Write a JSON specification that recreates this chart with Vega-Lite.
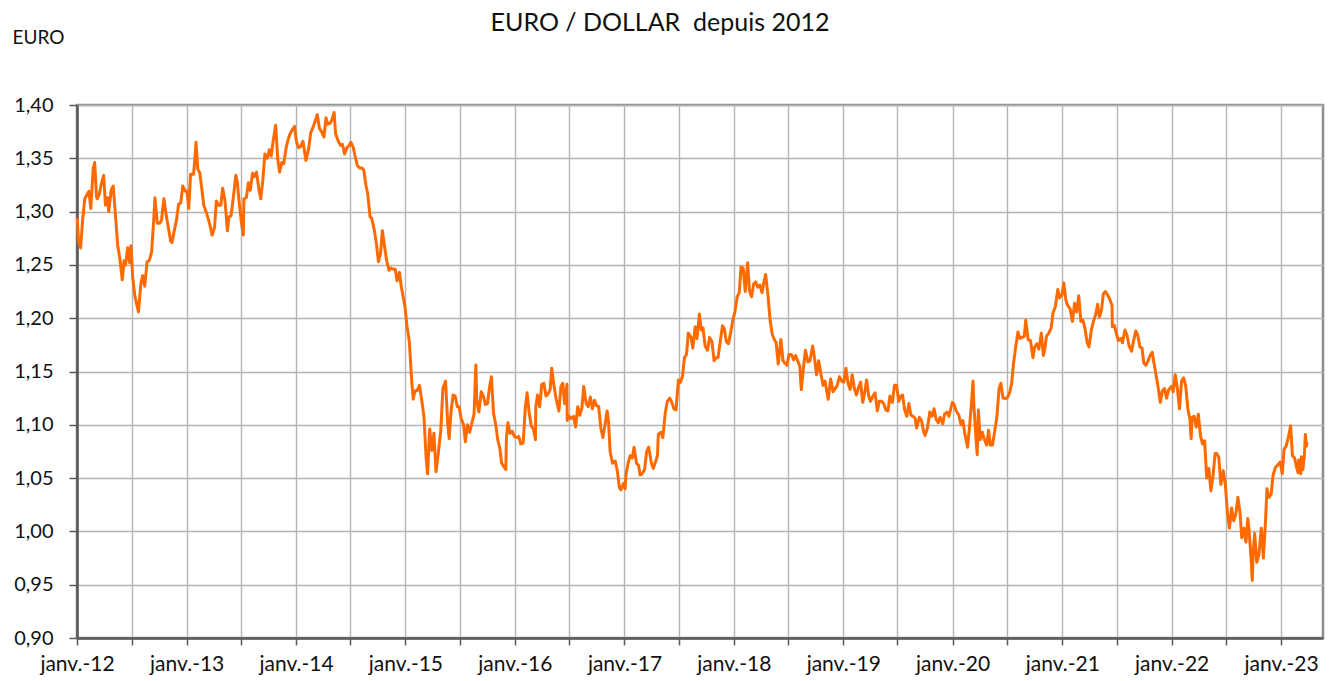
{
"$schema": "https://vega.github.io/schema/vega-lite/v6.json",
"autosize": "none",
"padding": {"left": 77, "top": 105, "right": 13, "bottom": 43},
"width": 1246,
"height": 533,
"background": "white",
"title": {"text": "EURO / DOLLAR\u00a0 depuis 2012", "font": "Lato", "fontSize": 25, "fontWeight": "normal", "color": "#111111", "anchor": "middle", "frame": "group", "offset": 0, "dy": 8, "dx": -40},
"config": {
  "view": {"stroke": "#8c8c8c", "strokeWidth": 2.5},
  "axis": {"labelFont": "Lato", "labelColor": "#111111", "titleFont": "Lato", "titleColor": "#111111", "gridColor": "#b4b4b4", "gridWidth": 1.4, "domainColor": "#595959", "domainWidth": 2.5, "tickColor": "#595959", "tickWidth": 1.5}
},
"data": {"values": [
{"d":"2012-01-02","v":1.294},{"d":"2012-01-06","v":1.272},{"d":"2012-01-13","v":1.266},{"d":"2012-01-20","v":1.293},{"d":"2012-01-27","v":1.312},{"d":"2012-02-03","v":1.316},{"d":"2012-02-10","v":1.319},{"d":"2012-02-16","v":1.303},{"d":"2012-02-24","v":1.340},{"d":"2012-02-29","v":1.346},{"d":"2012-03-06","v":1.314},{"d":"2012-03-09","v":1.312},{"d":"2012-03-16","v":1.317},{"d":"2012-03-23","v":1.327},{"d":"2012-03-30","v":1.334},{"d":"2012-04-05","v":1.306},{"d":"2012-04-12","v":1.313},{"d":"2012-04-16","v":1.300},{"d":"2012-04-24","v":1.320},{"d":"2012-05-01","v":1.324},{"d":"2012-05-09","v":1.294},{"d":"2012-05-16","v":1.268},{"d":"2012-05-23","v":1.256},{"d":"2012-05-31","v":1.236},{"d":"2012-06-06","v":1.254},{"d":"2012-06-11","v":1.250},{"d":"2012-06-18","v":1.266},{"d":"2012-06-25","v":1.252},{"d":"2012-06-29","v":1.268},{"d":"2012-07-05","v":1.238},{"d":"2012-07-12","v":1.221},{"d":"2012-07-24","v":1.206},{"d":"2012-08-01","v":1.232},{"d":"2012-08-07","v":1.240},{"d":"2012-08-14","v":1.230},{"d":"2012-08-22","v":1.253},{"d":"2012-08-29","v":1.254},{"d":"2012-09-06","v":1.262},{"d":"2012-09-13","v":1.292},{"d":"2012-09-17","v":1.313},{"d":"2012-09-25","v":1.289},{"d":"2012-10-03","v":1.289},{"d":"2012-10-09","v":1.292},{"d":"2012-10-17","v":1.312},{"d":"2012-10-25","v":1.296},{"d":"2012-11-02","v":1.283},{"d":"2012-11-09","v":1.272},{"d":"2012-11-13","v":1.271},{"d":"2012-11-19","v":1.280},{"d":"2012-11-28","v":1.292},{"d":"2012-12-05","v":1.307},{"d":"2012-12-12","v":1.308},{"d":"2012-12-19","v":1.324},{"d":"2012-12-28","v":1.319},
{"d":"2013-01-02","v":1.319},{"d":"2013-01-08","v":1.303},{"d":"2013-01-14","v":1.335},{"d":"2013-01-24","v":1.335},{"d":"2013-01-30","v":1.355},{"d":"2013-02-01","v":1.365},{"d":"2013-02-07","v":1.340},{"d":"2013-02-14","v":1.336},{"d":"2013-02-22","v":1.318},{"d":"2013-02-27","v":1.306},{"d":"2013-03-04","v":1.302},{"d":"2013-03-08","v":1.299},{"d":"2013-03-19","v":1.288},{"d":"2013-03-27","v":1.278},{"d":"2013-04-04","v":1.285},{"d":"2013-04-10","v":1.310},{"d":"2013-04-17","v":1.306},{"d":"2013-04-25","v":1.306},{"d":"2013-05-01","v":1.322},{"d":"2013-05-09","v":1.310},{"d":"2013-05-17","v":1.282},{"d":"2013-05-22","v":1.295},{"d":"2013-05-29","v":1.296},{"d":"2013-06-06","v":1.314},{"d":"2013-06-14","v":1.334},{"d":"2013-06-19","v":1.328},{"d":"2013-06-24","v":1.312},{"d":"2013-07-03","v":1.289},{"d":"2013-07-09","v":1.278},{"d":"2013-07-11","v":1.312},{"d":"2013-07-19","v":1.313},{"d":"2013-07-26","v":1.327},{"d":"2013-08-01","v":1.320},{"d":"2013-08-09","v":1.336},{"d":"2013-08-15","v":1.333},{"d":"2013-08-22","v":1.337},{"d":"2013-08-30","v":1.321},{"d":"2013-09-05","v":1.312},{"d":"2013-09-12","v":1.329},{"d":"2013-09-19","v":1.354},{"d":"2013-09-27","v":1.350},{"d":"2013-10-04","v":1.358},{"d":"2013-10-10","v":1.352},{"d":"2013-10-17","v":1.367},{"d":"2013-10-25","v":1.381},{"d":"2013-11-01","v":1.349},{"d":"2013-11-07","v":1.337},{"d":"2013-11-14","v":1.346},{"d":"2013-11-21","v":1.345},{"d":"2013-11-29","v":1.360},{"d":"2013-12-05","v":1.367},{"d":"2013-12-12","v":1.373},{"d":"2013-12-18","v":1.376},{"d":"2013-12-27","v":1.380},
{"d":"2014-01-02","v":1.366},{"d":"2014-01-09","v":1.360},{"d":"2014-01-16","v":1.361},{"d":"2014-01-24","v":1.366},{"d":"2014-02-03","v":1.348},{"d":"2014-02-12","v":1.359},{"d":"2014-02-19","v":1.374},{"d":"2014-02-28","v":1.380},{"d":"2014-03-07","v":1.386},{"d":"2014-03-13","v":1.391},{"d":"2014-03-20","v":1.378},{"d":"2014-03-27","v":1.375},{"d":"2014-04-04","v":1.370},{"d":"2014-04-11","v":1.388},{"d":"2014-04-17","v":1.382},{"d":"2014-04-25","v":1.383},{"d":"2014-05-02","v":1.387},{"d":"2014-05-08","v":1.393},{"d":"2014-05-13","v":1.373},{"d":"2014-05-22","v":1.366},{"d":"2014-05-30","v":1.362},{"d":"2014-06-05","v":1.363},{"d":"2014-06-12","v":1.354},{"d":"2014-06-20","v":1.360},{"d":"2014-06-27","v":1.362},{"d":"2014-07-03","v":1.365},{"d":"2014-07-11","v":1.360},{"d":"2014-07-17","v":1.352},{"d":"2014-07-25","v":1.343},{"d":"2014-08-01","v":1.341},{"d":"2014-08-08","v":1.341},{"d":"2014-08-15","v":1.339},{"d":"2014-08-22","v":1.325},{"d":"2014-08-28","v":1.317},{"d":"2014-09-05","v":1.295},{"d":"2014-09-10","v":1.294},{"d":"2014-09-19","v":1.283},{"d":"2014-09-26","v":1.270},{"d":"2014-10-03","v":1.253},{"d":"2014-10-10","v":1.261},{"d":"2014-10-16","v":1.282},{"d":"2014-10-24","v":1.266},{"d":"2014-10-31","v":1.253},{"d":"2014-11-07","v":1.245},{"d":"2014-11-13","v":1.247},{"d":"2014-11-21","v":1.246},{"d":"2014-11-28","v":1.246},{"d":"2014-12-04","v":1.235},{"d":"2014-12-12","v":1.243},{"d":"2014-12-18","v":1.230},{"d":"2014-12-31","v":1.210},
{"d":"2015-01-06","v":1.193},{"d":"2015-01-14","v":1.178},{"d":"2015-01-22","v":1.141},{"d":"2015-01-27","v":1.124},{"d":"2015-02-02","v":1.132},{"d":"2015-02-09","v":1.132},{"d":"2015-02-17","v":1.137},{"d":"2015-02-26","v":1.120},{"d":"2015-03-04","v":1.107},{"d":"2015-03-11","v":1.069},{"d":"2015-03-16","v":1.054},{"d":"2015-03-18","v":1.066},{"d":"2015-03-23","v":1.096},{"d":"2015-03-30","v":1.076},{"d":"2015-04-06","v":1.092},{"d":"2015-04-13","v":1.056},{"d":"2015-04-21","v":1.074},{"d":"2015-04-29","v":1.095},{"d":"2015-05-06","v":1.134},{"d":"2015-05-15","v":1.141},{"d":"2015-05-22","v":1.101},{"d":"2015-05-27","v":1.087},{"d":"2015-06-02","v":1.112},{"d":"2015-06-09","v":1.128},{"d":"2015-06-16","v":1.127},{"d":"2015-06-23","v":1.117},{"d":"2015-06-29","v":1.117},{"d":"2015-07-06","v":1.106},{"d":"2015-07-14","v":1.100},{"d":"2015-07-20","v":1.084},{"d":"2015-07-27","v":1.100},{"d":"2015-08-03","v":1.093},{"d":"2015-08-11","v":1.102},{"d":"2015-08-18","v":1.110},{"d":"2015-08-24","v":1.156},{"d":"2015-08-27","v":1.123},{"d":"2015-09-03","v":1.112},{"d":"2015-09-11","v":1.131},{"d":"2015-09-18","v":1.127},{"d":"2015-09-25","v":1.119},{"d":"2015-10-02","v":1.120},{"d":"2015-10-09","v":1.136},{"d":"2015-10-15","v":1.145},{"d":"2015-10-22","v":1.111},{"d":"2015-10-30","v":1.099},{"d":"2015-11-05","v":1.086},{"d":"2015-11-12","v":1.078},{"d":"2015-11-18","v":1.064},{"d":"2015-11-27","v":1.060},{"d":"2015-12-02","v":1.058},{"d":"2015-12-04","v":1.088},{"d":"2015-12-09","v":1.102},{"d":"2015-12-16","v":1.092},{"d":"2015-12-23","v":1.094},{"d":"2015-12-31","v":1.089},
{"d":"2016-01-07","v":1.088},{"d":"2016-01-14","v":1.089},{"d":"2016-01-21","v":1.082},{"d":"2016-01-29","v":1.083},{"d":"2016-02-05","v":1.116},{"d":"2016-02-11","v":1.130},{"d":"2016-02-18","v":1.111},{"d":"2016-02-25","v":1.099},{"d":"2016-03-03","v":1.096},{"d":"2016-03-10","v":1.086},{"d":"2016-03-11","v":1.117},{"d":"2016-03-17","v":1.128},{"d":"2016-03-24","v":1.117},{"d":"2016-03-31","v":1.138},{"d":"2016-04-07","v":1.139},{"d":"2016-04-14","v":1.127},{"d":"2016-04-21","v":1.129},{"d":"2016-04-28","v":1.133},{"d":"2016-05-03","v":1.153},{"d":"2016-05-10","v":1.138},{"d":"2016-05-18","v":1.124},{"d":"2016-05-27","v":1.113},{"d":"2016-06-03","v":1.136},{"d":"2016-06-09","v":1.139},{"d":"2016-06-15","v":1.120},{"d":"2016-06-23","v":1.138},{"d":"2016-06-24","v":1.104},{"d":"2016-06-30","v":1.108},{"d":"2016-07-07","v":1.106},{"d":"2016-07-15","v":1.108},{"d":"2016-07-22","v":1.098},{"d":"2016-07-29","v":1.117},{"d":"2016-08-05","v":1.109},{"d":"2016-08-12","v":1.116},{"d":"2016-08-18","v":1.136},{"d":"2016-08-26","v":1.120},{"d":"2016-09-02","v":1.117},{"d":"2016-09-09","v":1.126},{"d":"2016-09-16","v":1.115},{"d":"2016-09-23","v":1.123},{"d":"2016-09-30","v":1.118},{"d":"2016-10-07","v":1.117},{"d":"2016-10-14","v":1.097},{"d":"2016-10-21","v":1.088},{"d":"2016-10-28","v":1.100},{"d":"2016-11-04","v":1.113},{"d":"2016-11-09","v":1.102},{"d":"2016-11-14","v":1.075},{"d":"2016-11-22","v":1.064},{"d":"2016-12-01","v":1.066},{"d":"2016-12-08","v":1.057},{"d":"2016-12-15","v":1.041},{"d":"2016-12-20","v":1.039},{"d":"2016-12-28","v":1.045},
{"d":"2017-01-03","v":1.040},{"d":"2017-01-06","v":1.053},{"d":"2017-01-13","v":1.064},{"d":"2017-01-20","v":1.071},{"d":"2017-01-27","v":1.069},{"d":"2017-02-02","v":1.079},{"d":"2017-02-10","v":1.064},{"d":"2017-02-17","v":1.062},{"d":"2017-02-22","v":1.053},{"d":"2017-03-01","v":1.054},{"d":"2017-03-09","v":1.058},{"d":"2017-03-16","v":1.075},{"d":"2017-03-23","v":1.079},{"d":"2017-03-31","v":1.065},{"d":"2017-04-07","v":1.059},{"d":"2017-04-13","v":1.064},{"d":"2017-04-21","v":1.071},{"d":"2017-04-24","v":1.091},{"d":"2017-05-02","v":1.093},{"d":"2017-05-09","v":1.088},{"d":"2017-05-17","v":1.111},{"d":"2017-05-24","v":1.122},{"d":"2017-06-01","v":1.125},{"d":"2017-06-08","v":1.121},{"d":"2017-06-15","v":1.115},{"d":"2017-06-22","v":1.114},{"d":"2017-06-30","v":1.142},{"d":"2017-07-07","v":1.140},{"d":"2017-07-14","v":1.146},{"d":"2017-07-20","v":1.163},{"d":"2017-07-27","v":1.166},{"d":"2017-08-02","v":1.186},{"d":"2017-08-11","v":1.182},{"d":"2017-08-17","v":1.172},{"d":"2017-08-25","v":1.192},{"d":"2017-08-31","v":1.181},{"d":"2017-09-08","v":1.204},{"d":"2017-09-14","v":1.189},{"d":"2017-09-20","v":1.191},{"d":"2017-09-27","v":1.174},{"d":"2017-10-05","v":1.170},{"d":"2017-10-12","v":1.182},{"d":"2017-10-20","v":1.178},{"d":"2017-10-27","v":1.160},{"d":"2017-11-02","v":1.163},{"d":"2017-11-09","v":1.163},{"d":"2017-11-16","v":1.177},{"d":"2017-11-24","v":1.193},{"d":"2017-11-30","v":1.190},{"d":"2017-12-07","v":1.178},{"d":"2017-12-14","v":1.176},{"d":"2017-12-21","v":1.186},{"d":"2017-12-29","v":1.199},
{"d":"2018-01-04","v":1.205},{"d":"2018-01-12","v":1.220},{"d":"2018-01-19","v":1.224},{"d":"2018-01-25","v":1.248},{"d":"2018-02-01","v":1.247},{"d":"2018-02-08","v":1.225},{"d":"2018-02-16","v":1.252},{"d":"2018-02-22","v":1.226},{"d":"2018-03-01","v":1.220},{"d":"2018-03-08","v":1.232},{"d":"2018-03-15","v":1.234},{"d":"2018-03-22","v":1.229},{"d":"2018-03-29","v":1.231},{"d":"2018-04-05","v":1.224},{"d":"2018-04-12","v":1.235},{"d":"2018-04-17","v":1.241},{"d":"2018-04-25","v":1.221},{"d":"2018-05-02","v":1.198},{"d":"2018-05-09","v":1.185},{"d":"2018-05-16","v":1.180},{"d":"2018-05-22","v":1.177},{"d":"2018-05-29","v":1.157},{"d":"2018-06-07","v":1.180},{"d":"2018-06-14","v":1.160},{"d":"2018-06-20","v":1.158},{"d":"2018-06-27","v":1.156},{"d":"2018-07-04","v":1.166},{"d":"2018-07-12","v":1.166},{"d":"2018-07-19","v":1.161},{"d":"2018-07-26","v":1.165},{"d":"2018-08-02","v":1.160},{"d":"2018-08-09","v":1.155},{"d":"2018-08-14","v":1.133},{"d":"2018-08-21","v":1.153},{"d":"2018-08-28","v":1.170},{"d":"2018-09-05","v":1.159},{"d":"2018-09-12","v":1.160},{"d":"2018-09-21","v":1.174},{"d":"2018-09-27","v":1.163},{"d":"2018-10-04","v":1.147},{"d":"2018-10-11","v":1.160},{"d":"2018-10-19","v":1.147},{"d":"2018-10-26","v":1.137},{"d":"2018-11-01","v":1.141},{"d":"2018-11-12","v":1.124},{"d":"2018-11-20","v":1.143},{"d":"2018-11-28","v":1.131},{"d":"2018-12-05","v":1.134},{"d":"2018-12-12","v":1.137},{"d":"2018-12-19","v":1.145},{"d":"2018-12-27","v":1.141},
{"d":"2019-01-03","v":1.140},{"d":"2019-01-10","v":1.153},{"d":"2019-01-17","v":1.139},{"d":"2019-01-24","v":1.133},{"d":"2019-01-31","v":1.147},{"d":"2019-02-07","v":1.134},{"d":"2019-02-14","v":1.128},{"d":"2019-02-21","v":1.135},{"d":"2019-02-28","v":1.140},{"d":"2019-03-07","v":1.121},{"d":"2019-03-14","v":1.131},{"d":"2019-03-20","v":1.142},{"d":"2019-03-27","v":1.127},{"d":"2019-04-02","v":1.122},{"d":"2019-04-10","v":1.127},{"d":"2019-04-17","v":1.130},{"d":"2019-04-25","v":1.113},{"d":"2019-05-01","v":1.122},{"d":"2019-05-09","v":1.122},{"d":"2019-05-16","v":1.120},{"d":"2019-05-23","v":1.114},{"d":"2019-05-30","v":1.113},{"d":"2019-06-06","v":1.127},{"d":"2019-06-14","v":1.121},{"d":"2019-06-21","v":1.137},{"d":"2019-06-28","v":1.137},{"d":"2019-07-05","v":1.122},{"d":"2019-07-12","v":1.127},{"d":"2019-07-18","v":1.128},{"d":"2019-07-25","v":1.114},{"d":"2019-08-01","v":1.108},{"d":"2019-08-08","v":1.120},{"d":"2019-08-15","v":1.109},{"d":"2019-08-22","v":1.108},{"d":"2019-08-29","v":1.106},{"d":"2019-09-03","v":1.097},{"d":"2019-09-12","v":1.107},{"d":"2019-09-19","v":1.104},{"d":"2019-09-26","v":1.094},{"d":"2019-10-01","v":1.090},{"d":"2019-10-09","v":1.097},{"d":"2019-10-17","v":1.112},{"d":"2019-10-25","v":1.108},{"d":"2019-10-31","v":1.115},{"d":"2019-11-07","v":1.105},{"d":"2019-11-14","v":1.102},{"d":"2019-11-20","v":1.107},{"d":"2019-11-29","v":1.101},{"d":"2019-12-05","v":1.110},{"d":"2019-12-13","v":1.112},{"d":"2019-12-20","v":1.108},{"d":"2019-12-31","v":1.121},
{"d":"2020-01-06","v":1.119},{"d":"2020-01-13","v":1.113},{"d":"2020-01-22","v":1.109},{"d":"2020-01-29","v":1.100},{"d":"2020-02-04","v":1.104},{"d":"2020-02-11","v":1.091},{"d":"2020-02-20","v":1.079},{"d":"2020-02-27","v":1.100},{"d":"2020-03-03","v":1.117},{"d":"2020-03-09","v":1.141},{"d":"2020-03-12","v":1.118},{"d":"2020-03-18","v":1.092},{"d":"2020-03-23","v":1.072},{"d":"2020-03-27","v":1.114},{"d":"2020-04-02","v":1.086},{"d":"2020-04-09","v":1.093},{"d":"2020-04-16","v":1.086},{"d":"2020-04-24","v":1.081},{"d":"2020-04-30","v":1.095},{"d":"2020-05-06","v":1.081},{"d":"2020-05-13","v":1.081},{"d":"2020-05-21","v":1.095},{"d":"2020-05-28","v":1.108},{"d":"2020-06-04","v":1.134},{"d":"2020-06-10","v":1.139},{"d":"2020-06-17","v":1.125},{"d":"2020-06-24","v":1.125},{"d":"2020-07-01","v":1.125},{"d":"2020-07-09","v":1.130},{"d":"2020-07-16","v":1.139},{"d":"2020-07-22","v":1.157},{"d":"2020-07-29","v":1.172},{"d":"2020-08-06","v":1.187},{"d":"2020-08-13","v":1.181},{"d":"2020-08-20","v":1.182},{"d":"2020-08-27","v":1.183},{"d":"2020-09-01","v":1.198},{"d":"2020-09-09","v":1.180},{"d":"2020-09-17","v":1.179},{"d":"2020-09-25","v":1.163},{"d":"2020-10-01","v":1.173},{"d":"2020-10-08","v":1.176},{"d":"2020-10-15","v":1.171},{"d":"2020-10-23","v":1.186},{"d":"2020-10-30","v":1.165},{"d":"2020-11-04","v":1.172},{"d":"2020-11-09","v":1.183},{"d":"2020-11-17","v":1.186},{"d":"2020-11-25","v":1.191},{"d":"2020-12-01","v":1.205},{"d":"2020-12-09","v":1.211},{"d":"2020-12-17","v":1.227},{"d":"2020-12-23","v":1.219},{"d":"2020-12-31","v":1.222},
{"d":"2021-01-06","v":1.233},{"d":"2021-01-13","v":1.217},{"d":"2021-01-19","v":1.212},{"d":"2021-01-27","v":1.209},{"d":"2021-02-04","v":1.197},{"d":"2021-02-11","v":1.214},{"d":"2021-02-18","v":1.206},{"d":"2021-02-25","v":1.221},{"d":"2021-03-04","v":1.197},{"d":"2021-03-11","v":1.198},{"d":"2021-03-18","v":1.190},{"d":"2021-03-25","v":1.177},{"d":"2021-03-31","v":1.173},{"d":"2021-04-08","v":1.189},{"d":"2021-04-15","v":1.197},{"d":"2021-04-22","v":1.203},{"d":"2021-04-29","v":1.213},{"d":"2021-05-05","v":1.201},{"d":"2021-05-12","v":1.208},{"d":"2021-05-18","v":1.223},{"d":"2021-05-25","v":1.225},{"d":"2021-06-01","v":1.222},{"d":"2021-06-08","v":1.218},{"d":"2021-06-16","v":1.212},{"d":"2021-06-17","v":1.192},{"d":"2021-06-24","v":1.193},{"d":"2021-07-01","v":1.185},{"d":"2021-07-07","v":1.179},{"d":"2021-07-15","v":1.181},{"d":"2021-07-21","v":1.177},{"d":"2021-07-29","v":1.189},{"d":"2021-08-05","v":1.184},{"d":"2021-08-12","v":1.174},{"d":"2021-08-20","v":1.169},{"d":"2021-08-27","v":1.179},{"d":"2021-09-03","v":1.188},{"d":"2021-09-10","v":1.184},{"d":"2021-09-17","v":1.173},{"d":"2021-09-24","v":1.172},{"d":"2021-09-30","v":1.158},{"d":"2021-10-07","v":1.156},{"d":"2021-10-14","v":1.160},{"d":"2021-10-21","v":1.165},{"d":"2021-10-28","v":1.168},{"d":"2021-11-04","v":1.156},{"d":"2021-11-11","v":1.145},{"d":"2021-11-18","v":1.133},{"d":"2021-11-24","v":1.121},{"d":"2021-12-01","v":1.132},{"d":"2021-12-08","v":1.134},{"d":"2021-12-15","v":1.125},{"d":"2021-12-22","v":1.133},{"d":"2021-12-31","v":1.136},
{"d":"2022-01-06","v":1.131},{"d":"2022-01-13","v":1.147},{"d":"2022-01-20","v":1.134},{"d":"2022-01-27","v":1.115},{"d":"2022-02-03","v":1.141},{"d":"2022-02-10","v":1.144},{"d":"2022-02-17","v":1.136},{"d":"2022-02-24","v":1.115},{"d":"2022-03-03","v":1.105},{"d":"2022-03-07","v":1.087},{"d":"2022-03-10","v":1.107},{"d":"2022-03-17","v":1.108},{"d":"2022-03-24","v":1.098},{"d":"2022-03-31","v":1.110},{"d":"2022-04-07","v":1.090},{"d":"2022-04-14","v":1.082},{"d":"2022-04-21","v":1.085},{"d":"2022-04-28","v":1.050},{"d":"2022-05-05","v":1.059},{"d":"2022-05-12","v":1.038},{"d":"2022-05-19","v":1.052},{"d":"2022-05-26","v":1.073},{"d":"2022-05-31","v":1.073},{"d":"2022-06-07","v":1.070},{"d":"2022-06-14","v":1.044},{"d":"2022-06-22","v":1.057},{"d":"2022-06-29","v":1.044},{"d":"2022-07-06","v":1.018},{"d":"2022-07-13","v":1.003},{"d":"2022-07-20","v":1.022},{"d":"2022-07-27","v":1.010},{"d":"2022-08-03","v":1.016},{"d":"2022-08-10","v":1.032},{"d":"2022-08-17","v":1.018},{"d":"2022-08-23","v":0.994},{"d":"2022-08-30","v":1.003},{"d":"2022-09-06","v":0.990},{"d":"2022-09-12","v":1.012},{"d":"2022-09-16","v":1.002},{"d":"2022-09-23","v":0.975},{"d":"2022-09-27","v":0.954},{"d":"2022-09-30","v":0.980},{"d":"2022-10-05","v":0.998},{"d":"2022-10-12","v":0.971},{"d":"2022-10-19","v":0.978},{"d":"2022-10-27","v":1.003},{"d":"2022-11-03","v":0.975},{"d":"2022-11-10","v":1.009},{"d":"2022-11-15","v":1.040},{"d":"2022-11-22","v":1.032},{"d":"2022-11-29","v":1.035},{"d":"2022-12-05","v":1.052},{"d":"2022-12-13","v":1.060},{"d":"2022-12-20","v":1.062},{"d":"2022-12-29","v":1.065},
{"d":"2023-01-05","v":1.054},{"d":"2023-01-11","v":1.077},{"d":"2023-01-18","v":1.080},{"d":"2023-01-26","v":1.089},{"d":"2023-02-02","v":1.099},{"d":"2023-02-08","v":1.071},{"d":"2023-02-15","v":1.069},{"d":"2023-02-22","v":1.060},{"d":"2023-02-27","v":1.055},{"d":"2023-03-01","v":1.067},{"d":"2023-03-08","v":1.054},{"d":"2023-03-10","v":1.070},{"d":"2023-03-15","v":1.058},{"d":"2023-03-20","v":1.072},{"d":"2023-03-23","v":1.091},{"d":"2023-03-27","v":1.080},{"d":"2023-03-28","v":1.084}
]},
"mark": {"type": "line", "color": "#FF6A00", "strokeWidth": 3, "strokeJoin": "round"},
"encoding": {
  "x": {"field": "d", "type": "temporal",
    "scale": {"type": "utc", "domain": [{"year": 2012, "month": 1, "date": 1, "utc": true}, {"year": 2023, "month": 5, "date": 21, "utc": true}]},
    "axis": {"title": null, "grid": true, "tickSize": 7, "labelPadding": 8, "labelFontSize": 21, "labelFlush": false, "labelOverlap": false,
      "values": [
        {"year":2012,"month":1,"date":1,"utc":true},{"year":2012,"month":7,"date":1,"utc":true},
        {"year":2013,"month":1,"date":1,"utc":true},{"year":2013,"month":7,"date":1,"utc":true},
        {"year":2014,"month":1,"date":1,"utc":true},{"year":2014,"month":7,"date":1,"utc":true},
        {"year":2015,"month":1,"date":1,"utc":true},{"year":2015,"month":7,"date":1,"utc":true},
        {"year":2016,"month":1,"date":1,"utc":true},{"year":2016,"month":7,"date":1,"utc":true},
        {"year":2017,"month":1,"date":1,"utc":true},{"year":2017,"month":7,"date":1,"utc":true},
        {"year":2018,"month":1,"date":1,"utc":true},{"year":2018,"month":7,"date":1,"utc":true},
        {"year":2019,"month":1,"date":1,"utc":true},{"year":2019,"month":7,"date":1,"utc":true},
        {"year":2020,"month":1,"date":1,"utc":true},{"year":2020,"month":7,"date":1,"utc":true},
        {"year":2021,"month":1,"date":1,"utc":true},{"year":2021,"month":7,"date":1,"utc":true},
        {"year":2022,"month":1,"date":1,"utc":true},{"year":2022,"month":7,"date":1,"utc":true},
        {"year":2023,"month":1,"date":1,"utc":true}],
      "labelExpr": "utcmonth(datum.value) == 0 ? 'janv.-' + utcFormat(datum.value, '%y') : ''"}},
  "y": {"field": "v", "type": "quantitative",
    "scale": {"domain": [0.9, 1.4], "zero": false, "nice": false},
    "axis": {"title": "EURO", "titleAngle": 0, "titleAlign": "left", "titleBaseline": "middle", "titleX": -65, "titleY": -68, "titleFontSize": 19, "titleFontWeight": "normal",
      "grid": true, "tickSize": 8, "labelPadding": 16, "labelFontSize": 20,
      "values": [0.9, 0.95, 1.0, 1.05, 1.1, 1.15, 1.2, 1.25, 1.3, 1.35, 1.4],
      "labelExpr": "replace(format(datum.value, '.2f'), '.', ',')"}}
}
}
